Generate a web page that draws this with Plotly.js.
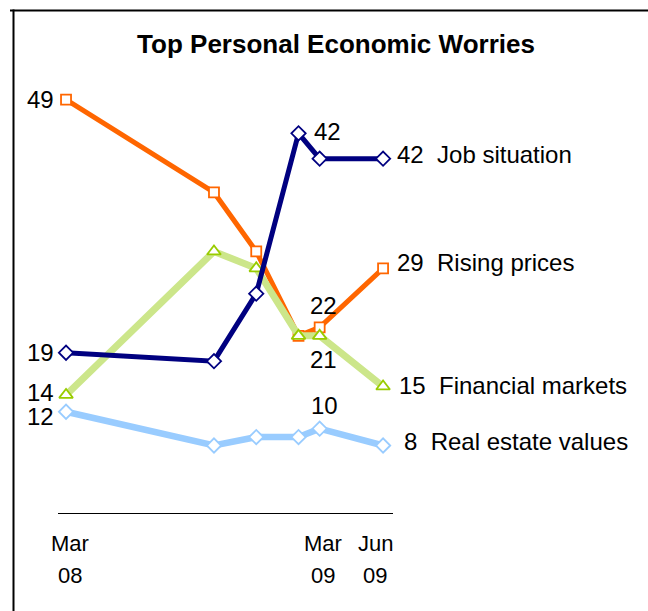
<!DOCTYPE html>
<html>
<head>
<meta charset="utf-8">
<script src="https://cdn.plot.ly/plotly-3.0.1.min.js"></script>
<style>html,body{margin:0;padding:0;background:#fff;}#chart{width:648px;height:611px;}</style>
</head>
<body>
<div id="chart"></div>
<script>
// ---- data ----
var surveys = ["Mar 08", "Oct 08", "Dec 08", "Feb 09", "Mar 09", "Jun 09"];
var jobSituation = [19, 18, 26, 45, 42, 42];
var risingPrices = [49, 38, 31, 21, 22, 29];
var financialMarkets = [14, 31, 29, 21, 21, 15];
var realEstateValues = [12, 8, 9, 9, 10, 8];
var seriesNames = ["Job situation", "Rising prices", "Financial markets", "Real estate values"];
var tickLabels = ["Mar 08", "Mar 09", "Jun 09"];

var monthIdx = {Jan:0,Feb:1,Mar:2,Apr:3,May:4,Jun:5,Jul:6,Aug:7,Sep:8,Oct:9,Nov:10,Dec:11};
function toMonths(s){ var p=s.split(" "); return (parseInt(p[1],10)-8)*12 + monthIdx[p[0]] - 2; }
var xs = surveys.map(toMonths);
var lastX = xs[xs.length-1];

var FONT = "Liberation Sans, Arial, sans-serif";
var W = 648, H = 611, ML = 58, MR = 255, MT = 49, MB = 98;
function pxX(px){ return (px - ML) / (W - ML - MR); }
function pxY(py){ return (H - MB - py) / (H - MT - MB); }

function trace(y, name, lineColor, lineWidth, symbol, mColor, mSize){
  return {x: xs, y: y, name: name, type: "scatter", mode: "lines+markers", cliponaxis: false,
    line: {color: lineColor, width: lineWidth},
    marker: {symbol: symbol, size: mSize, color: "#ffffff", line: {color: mColor, width: 1.8}}};
}
var data = [
  trace(realEstateValues, seriesNames[3], "#99CCFF", 6.5, "diamond", "#99CCFF", 11),
  trace(risingPrices, seriesNames[1], "#FF6600", 5, "square", "#FF6600", 10),
  trace(financialMarkets, seriesNames[2], "#CCE68A", 7, "triangle-up", "#99CC00", 12),
  trace(jobSituation, seriesNames[0], "#000080", 5, "diamond", "#000080", 11)
];

var ann = [];
function lab(x, y, text, xanchor, xshift, yshift){
  ann.push({x: x, y: y, xref: "x", yref: "y", text: text, showarrow: false, xanchor: xanchor, yanchor: "middle",
    xshift: xshift, yshift: yshift, font: {family: FONT, size: 24, color: "#000"}});
}
var NB = "\u00A0\u00A0";
// left labels
lab(xs[0], risingPrices[0], String(risingPrices[0]), "right", -10, 0);
lab(xs[0], jobSituation[0], String(jobSituation[0]), "right", -10, 0);
lab(xs[0], financialMarkets[0], String(financialMarkets[0]), "right", -10, 2);
lab(xs[0], realEstateValues[0], String(realEstateValues[0]), "right", -10, -5);
// mid labels (Mar 09)
lab(xs[4], jobSituation[4], String(jobSituation[4]), "center", 8, 27);
lab(xs[4], risingPrices[4], String(risingPrices[4]), "center", 4, 22);
lab(xs[4], financialMarkets[4], String(financialMarkets[4]), "center", 4, -24);
lab(xs[4], realEstateValues[4], String(realEstateValues[4]), "center", 5, 23);
// right labels
lab(lastX, jobSituation[5], jobSituation[5] + NB + seriesNames[0], "left", 12, 4);
lab(lastX, risingPrices[5], risingPrices[5] + NB + seriesNames[1], "left", 12, 6);
lab(lastX, financialMarkets[5], financialMarkets[5] + NB + seriesNames[2], "left", 14, 1);
lab(lastX, realEstateValues[5], realEstateValues[5] + NB + seriesNames[3], "left", 19, 4);

// x tick labels
var tickShift = [4, 3, -8];
tickLabels.forEach(function(t, i){
  var p = t.split(" ");
  [p[0], p[1]].forEach(function(line, j){
    ann.push({x: toMonths(t), y: 0, xref: "x", yref: "paper", text: line, showarrow: false,
      xanchor: "center", yanchor: "middle", xshift: tickShift[i], yshift: j === 0 ? -30 : -62,
      font: {family: FONT, size: 22, color: "#000"}});
  });
});

var layout = {
  width: W, height: H,
  margin: {l: ML, r: MR, t: MT, b: MB, pad: 0},
  paper_bgcolor: "#fff", plot_bgcolor: "#fff",
  showlegend: false,
  title: {text: "<b>Top Personal Economic Worries</b>", x: 336 / W, xanchor: "center",
    y: 1 - 44 / H, yanchor: "middle", yref: "container",
    font: {family: FONT, size: 26, color: "#000"}},
  xaxis: {range: [-0.38, 15.47], showgrid: false, zeroline: false, showticklabels: false,
    ticks: "", showline: true, linecolor: "#000", linewidth: 1, fixedrange: true},
  yaxis: {range: [0, 55], visible: false, showgrid: false, zeroline: false, fixedrange: true},
  annotations: ann,
  shapes: [
    {type: "line", xref: "paper", yref: "paper", x0: pxX(10), x1: pxX(650), y0: pxY(10.5), y1: pxY(10.5),
      line: {color: "#000", width: 2}},
    {type: "line", xref: "paper", yref: "paper", x0: pxX(13.5), x1: pxX(13.5), y0: pxY(9.5), y1: pxY(615),
      line: {color: "#000", width: 2}}
  ]
};
Plotly.newPlot("chart", data, layout, {displayModeBar: false, staticPlot: true});
</script>
</body>
</html>
